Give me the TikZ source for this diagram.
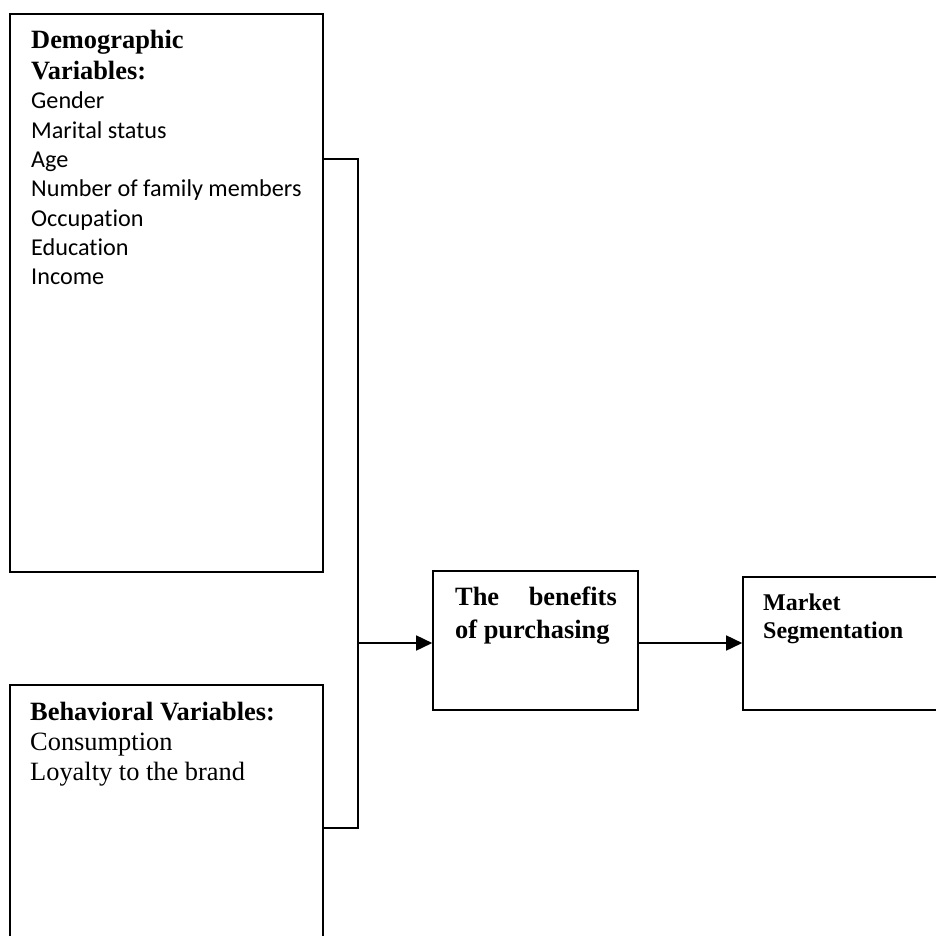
\documentclass[tikz,border=0pt]{standalone}
\usepackage{fontspec}
\setmainfont{Liberation Serif}
\newfontfamily\calfont[Ligatures=NoCommon]{Carlito}
\usetikzlibrary{arrows.meta,calc}
\tikzset{
  box/.style={draw=black,line width=1.6pt,rectangle,inner sep=0pt},
  cal/.style={anchor=base west,inner sep=0pt,font=\calfont\fontsize{24.2}{29}\selectfont},
  hd/.style={anchor=base west,inner sep=0pt,font=\bfseries\fontsize{26.4}{31}\selectfont},
  tm/.style={anchor=base west,inner sep=0pt,font=\fontsize{26.4}{30}\selectfont},
  hds/.style={anchor=base west,inner sep=0pt,font=\bfseries\fontsize{24}{27}\selectfont},
  conn/.style={line width=1.6pt},
  arr/.style={line width=1.6pt,-{Triangle[length=16pt,width=15pt]}}
}
\begin{document}
\begin{tikzpicture}[x=1pt,y=-1pt]
\clip (0,0) rectangle (936,936);
% boxes
\node[box,minimum width=313pt,minimum height=558pt] (demo) at (166.5,293) {};
\node[box,minimum width=313pt,minimum height=330pt] (beh) at (166.5,850) {};
\node[box,minimum width=205pt,minimum height=139pt] (ben) at (535.5,640.5) {};
\node[box,minimum width=230pt,minimum height=133pt] (mkt) at (858,643.5) {};
% demographic text
\node[hd] (d1) at (31,49) {Demographic};
\node[hd] (d2) at (31,80) {Variables:};
\node[cal] (d3) at (31,109) {Gender};
\node[cal] (d4) at (31,138.3) {Marital status};
\node[cal] (d5) at (31,167.6) {Age};
\node[cal] (d6) at (31,196.9) {Number of family members};
\node[cal] (d7) at (31,226.2) {Occupation};
\node[cal] (d8) at (31,255.5) {Education};
\node[cal] (d9) at (31,284.8) {Income};
% behavioral text
\node[hd] (b1) at (30,720) {Behavioral Variables:};
\node[tm] (b2) at (30,750) {Consumption};
\node[tm] (b3) at (30,780) {Loyalty to the brand};
% benefits text
\node[hd] (e1) at (455,605) {The};
\node[hd,anchor=base east] (e2) at (617,605) {benefits};
\node[hd] (e3) at (455,638) {of purchasing};
% market text
\node[hds] (m1) at (763,610) {Market};
\node[hds] (m2) at (763,638) {Segmentation};
% connectors
\coordinate (jt) at (358,159);
\coordinate (jb) at (358,828);
\coordinate (jm) at (358,643);
\draw[conn] (jt -| demo.east) -- (jt) -- (jb) -- (jb -| beh.east);
\draw[arr] (jm) -- (jm -| ben.west);
\draw[arr] (jm -| ben.east) -- (jm -| mkt.west);
\end{tikzpicture}
\end{document}
